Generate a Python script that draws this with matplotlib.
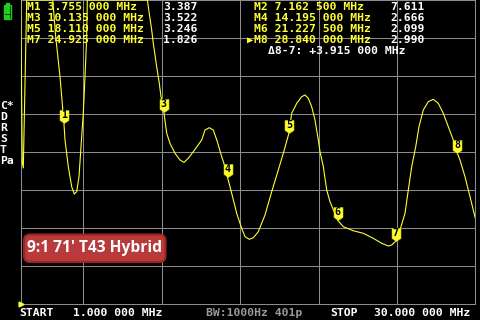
import numpy as np
import matplotlib
matplotlib.use("Agg")
import matplotlib.pyplot as plt
from matplotlib.path import Path
from matplotlib.patches import FancyBboxPatch, Rectangle
from matplotlib.transforms import IdentityTransform

# SWR trace (MHz, SWR); values above 5 are off the top
freq = [1.0, 1.10, 1.166, 1.383, 1.6, 2.2, 2.9, 3.048, 3.233, 3.507, 3.755, 3.826,
        4.036, 4.253, 4.419, 4.572, 4.719, 4.847, 4.993, 5.102, 5.21, 5.249, 5.6,
        7.1625, 8.8, 9.08, 9.20, 9.357, 9.459, 9.676, 9.842, 9.95, 10.135, 10.314,
        10.524, 10.843, 11.162, 11.417, 11.69, 12.01, 12.546, 12.757, 13.031, 13.286,
        13.542, 13.822, 14.033, 14.195, 14.46, 14.779, 15.098, 15.309, 15.583, 15.838,
        16.157, 16.584, 17.012, 17.433, 17.752, 18.11, 18.288, 18.607, 18.926, 19.136,
        19.347, 19.563, 19.774, 19.985, 20.093, 20.304, 20.52, 20.731, 21.2275, 21.58,
        22.217, 22.855, 23.493, 24.029, 24.45, 24.667, 24.925, 25.196, 25.515, 25.726,
        25.943, 26.198, 26.409, 26.683, 27.002, 27.32, 27.64, 27.958, 28.277, 28.596,
        28.84, 29.024, 29.343, 29.662, 30.0]
swr = [5.6, 2.86, 2.79, 5.0, 6.2, 6.8, 5.5, 5.0, 4.517, 3.991, 3.387, 3.158,
       2.807, 2.543, 2.447, 2.478, 2.675, 3.07, 3.509, 3.991, 4.517, 5.0, 6.2,
       7.611, 5.5, 5.0, 4.825, 4.605, 4.43, 4.12, 3.904, 3.728, 3.522, 3.246,
       3.114, 2.983, 2.895, 2.864, 2.917, 3.004, 3.158, 3.289, 3.320, 3.289,
       3.136, 2.938, 2.807, 2.666, 2.457, 2.193, 1.996, 1.886, 1.851, 1.872,
       1.951, 2.171, 2.478, 2.763, 2.983, 3.246, 3.509, 3.641, 3.728, 3.75,
       3.707, 3.596, 3.421, 3.158, 3.004, 2.807, 2.5, 2.346, 2.099, 2.017,
       1.964, 1.930, 1.864, 1.799, 1.763, 1.776, 1.826, 1.974, 2.193, 2.5,
       2.807, 3.07, 3.333, 3.553, 3.662, 3.693, 3.641, 3.509, 3.333, 3.158,
       2.990, 2.895, 2.675, 2.412, 2.128]

marker_ids = [1, 2, 3, 4, 5, 6, 7, 8]
marker_freq = [3.755, 7.1625, 10.135, 14.195, 18.11, 21.2275, 24.925, 28.84]
marker_swr = [3.387, 7.611, 3.522, 2.666, 3.246, 2.099, 1.826, 2.990]
delta_text = "\u03948-7: +3.915 000 MHz"

start_mhz, stop_mhz = 1.0, 30.0
swr_bottom, swr_top = 1.0, 5.0
bw_text = "BW:1000Hz 401p"
title = "9:1 71' T43 Hybrid"
side_letters = ["C*", "D", "R", "S", "T", "Pa"]

W, H = 480, 320
YEL = "#ffff30"
GRID = "#8c8c8c"
MONO = ["DejaVu Sans Mono", "DejaVu Sans"]
FS = 8.2


def fx(x):
    return x / W


def fy(y):
    return 1 - y / H


def mhz(f):
    s = f"{f:.6f}"
    return s[:-3] + " " + s[-3:]


fig = plt.figure(figsize=(W / 100, H / 100), dpi=100, facecolor="black")
ax = fig.add_axes([20.7 / W, 16 / H, 454.6 / W, 304 / H])
ax.set_facecolor("black")
ax.set_xlim(start_mhz, stop_mhz)
ax.set_ylim(swr_bottom, swr_top)
ax.set_xticks([5, 10, 15, 20, 25])
ax.set_yticks(np.arange(1.5, 5.0, 0.5))
ax.grid(color=GRID, lw=0.75)
ax.tick_params(length=0, labelbottom=False, labelleft=False)
for sp in ax.spines.values():
    sp.set_color(GRID)
    sp.set_linewidth(0.75)

# trace, clipped to the top of the screen like the VNA does
ax.plot(freq, np.minimum(swr, swr_top), color=YEL, lw=0.8, zorder=3)

# reference level mark
ax.plot([start_mhz], [swr_bottom], marker=">", ms=3.5, color=YEL,
        clip_on=False, zorder=4)

# marker flags (tip at the point)
flag = Path([(0, 0), (-4.5, 3), (-4.5, 13), (4.5, 13), (4.5, 3), (0, 0)],
            [Path.MOVETO] + [Path.LINETO] * 4 + [Path.CLOSEPOLY])
for mid, f, s in zip(marker_ids, marker_freq, marker_swr):
    if s > swr_top:
        continue
    ax.plot([f], [s], marker=flag, ms=18.7, color=YEL, mec="#c8c800", mew=0.4,
            zorder=5)
    ax.annotate(str(mid), (f, s), xytext=(0, 8), textcoords="offset pixels",
                ha="center", va="center", fontsize=7.2, fontweight="bold",
                family=MONO, color="black", zorder=6)

# marker readout
rows = [7, 18, 29, 40]
for i, (mid, f, s) in enumerate(zip(marker_ids, marker_freq, marker_swr)):
    col = i % 2
    y = rows[i // 2]
    xl = 27 if col == 0 else 254
    xv = 163 if col == 0 else 390
    fig.text(fx(xl), fy(y), f"M{mid} {mhz(f)} MHz", color=YEL, fontsize=FS,
             fontweight="bold", family=MONO, va="center", ha="left")
    fig.text(fx(xv), fy(y), f"{s:.3f}", color="white", fontsize=FS,
             fontweight="bold", family=MONO, va="center", ha="left")
fig.text(fx(246.5), fy(40), "\u25b6", color=YEL, fontsize=7.5, family=MONO,
         va="center", ha="left")
fig.text(fx(268), fy(51), delta_text, color="white", fontsize=FS,
         fontweight="bold", family=MONO, va="center", ha="left")

# side letters
for i, t in enumerate(side_letters):
    fig.text(fx(0), fy(106 + i * 11), t, color="white", fontsize=FS,
             fontweight="bold", family=MONO, va="center", ha="left")

# bottom status line
fig.text(fx(19), fy(313), "START", color="white", fontsize=FS,
         fontweight="bold", family=MONO, va="center")
fig.text(fx(73), fy(313), f"{mhz(start_mhz)} MHz", color="white", fontsize=FS,
         fontweight="bold", family=MONO, va="center")
fig.text(fx(206), fy(313), bw_text, color="#9a9a9a", fontsize=FS,
         fontweight="bold", family=MONO, va="center")
fig.text(fx(330), fy(313), "STOP", color="white", fontsize=FS,
         fontweight="bold", family=MONO, va="center")
fig.text(fx(374), fy(313), f"{mhz(stop_mhz)} MHz", color="white", fontsize=FS,
         fontweight="bold", family=MONO, va="center")

# battery
pix = IdentityTransform()
fig.add_artist(Rectangle((3.5, H - 19), 7, 14, fill=False, ec="#22cc22", lw=1,
                         transform=pix))
fig.add_artist(Rectangle((5.5, H - 5), 3, 2, color="#22cc22", transform=pix))
for k in range(3):
    fig.add_artist(Rectangle((5, H - 17.5 + k * 4.3), 4, 3, color="#22cc22",
                             transform=pix))

# label box
fig.add_artist(FancyBboxPatch((24, H - 262), 141.5, 27.5,
                              boxstyle="round,pad=0,rounding_size=6",
                              fc="#b83a3a", ec="#9c2424", lw=1.5, transform=pix))
fig.text(fx(94.5), fy(248.5), title, color="white", fontsize=11.2,
         fontweight="bold", family=["Open Sans", "DejaVu Sans"],
         ha="center", va="center")

fig.savefig("out.png", dpi=100, facecolor="black")
